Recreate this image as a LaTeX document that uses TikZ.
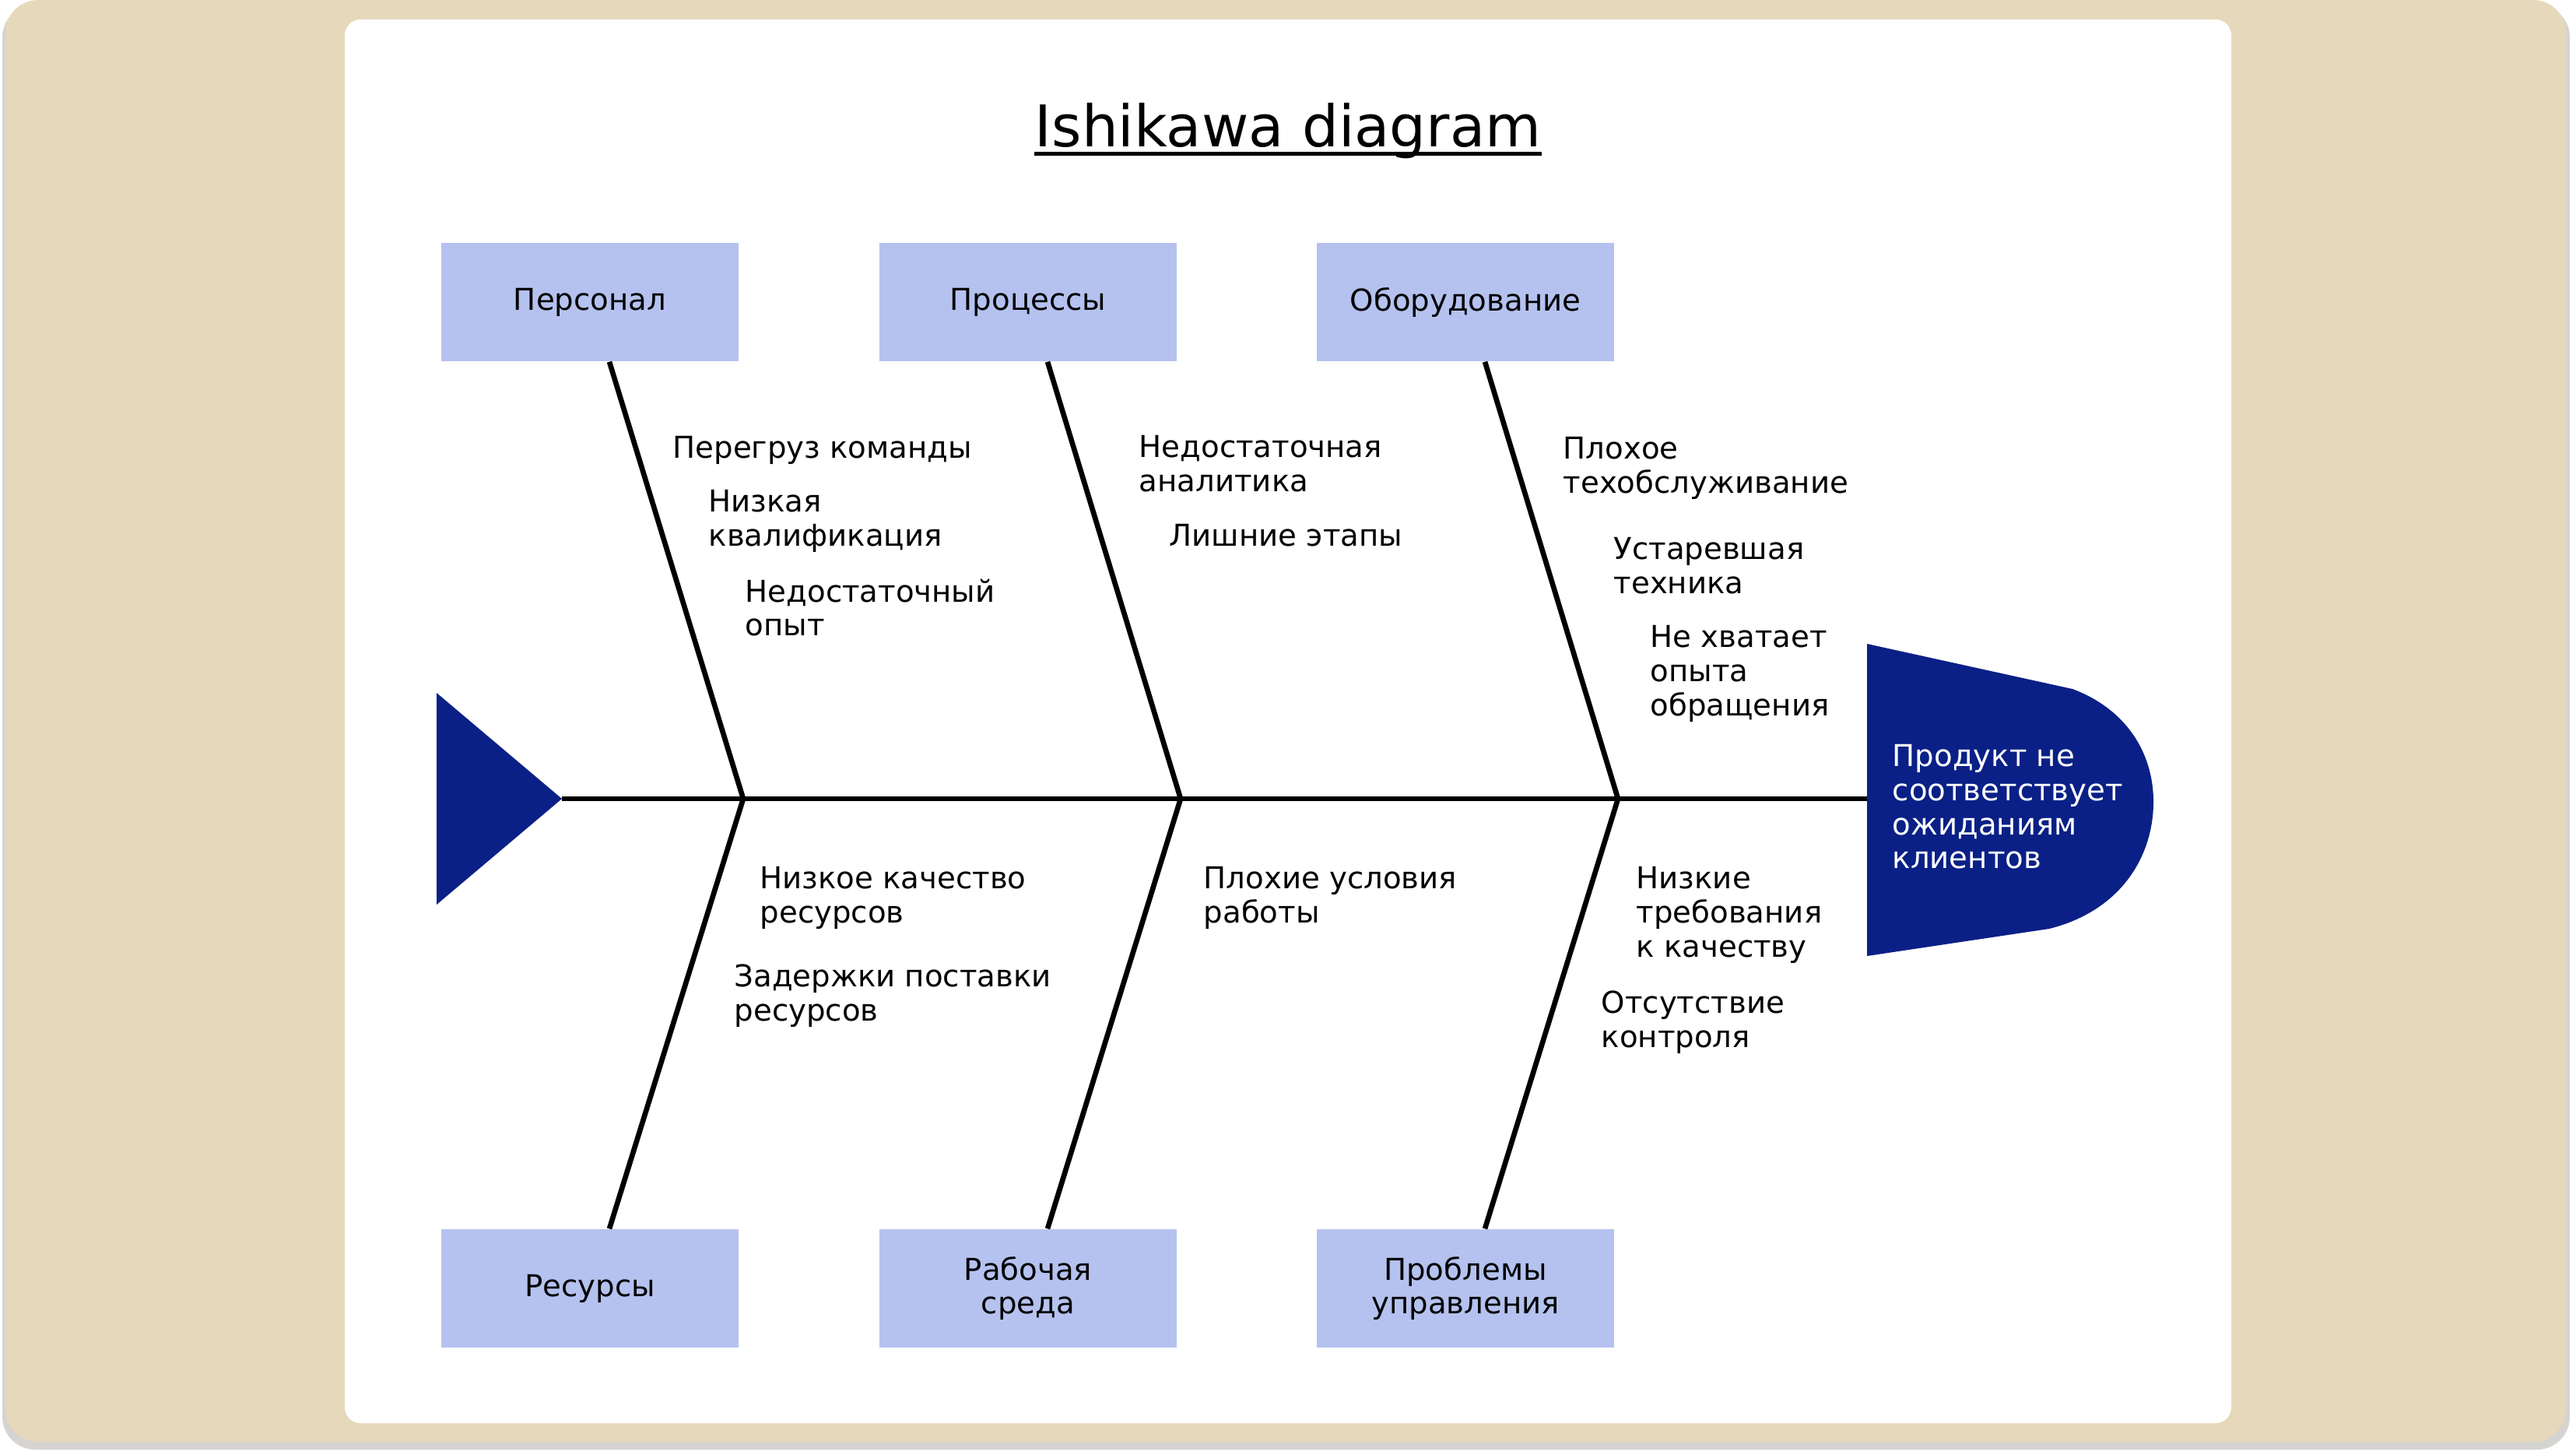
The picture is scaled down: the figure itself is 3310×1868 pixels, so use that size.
\documentclass[tikz,border=0pt]{standalone}
\usepackage{fontspec}
\setmainfont{DejaVu Sans}
\definecolor{sand}{RGB}{230,216,186}
\definecolor{cardshadow}{RGB}{214,212,209}
\definecolor{catblue}{RGB}{181,194,239}
\definecolor{navy}{RGB}{10,32,134}

\begin{document}
\begin{tikzpicture}[x=0.01cm,y=-0.01cm,
    bone/.style={line width=1.9pt},
    cat/.style={fill=catblue,minimum width=3.81cm,minimum height=1.52cm,align=center,font=\fontsize{11}{12.4}\selectfont},
    cause/.style={anchor=north west,inner sep=0pt,align=left,font=\fontsize{11}{12.4}\selectfont}]
  \useasboundingbox (0,0) rectangle (3310,1868);
  % card and sheet
  \fill[cardshadow,rounded corners=0.42cm] (3,6) rectangle (3302,1862);
  \fill[sand,rounded corners=0.42cm] (7,0) rectangle (3297,1852);
  \fill[white,rounded corners=0.2cm] (443,25) rectangle (2867,1828);
  % title
  \node[anchor=base,inner sep=0pt,font=\fontsize{21}{25}\selectfont] (title) at (1655,188) {Ishikawa diagram};
  \draw[line width=1.4pt] ([yshift=-2.6pt]title.base west) -- ([yshift=-2.6pt]title.base east);
  % categories
  \node[cat] (pers) at (758,388) {Персонал};
  \node[cat] (proc) at (1321,388) {Процессы};
  \node[cat] (equip) at (1883,388) {Оборудование};
  \node[cat] (res) at (758,1655) {Ресурсы};
  \node[cat] (env) at (1321,1655) {Рабочая\\среда};
  \node[cat] (mgmt) at (1883,1655) {Проблемы\\управления};
  % spine and bones
  \coordinate (tail) at (722,1026);
  \coordinate (head) at (2400,1026);
  \coordinate (j1) at (955,1026);
  \coordinate (j2) at (1517,1026);
  \coordinate (j3) at (2079,1026);
  \fill[navy] (561,890) -- (tail) -- (561,1162) -- cycle;
  \draw[bone] (tail) -- (head);
  \draw[bone] ([xshift=2.5mm]pers.south) -- (j1) -- ([xshift=2.5mm]res.north);
  \draw[bone] ([xshift=2.5mm]proc.south) -- (j2) -- ([xshift=2.5mm]env.north);
  \draw[bone] ([xshift=2.5mm]equip.south) -- (j3) -- ([xshift=2.5mm]mgmt.north);
  % head
  \fill[navy] (2399,827) -- (2663,885) .. controls (2730,910) and (2767,965) .. (2767,1030)
    .. controls (2767,1100) and (2725,1170) .. (2633,1193) -- (2399,1228) -- cycle;
  \node[cause,text=white] (effect) at (2431,956) {Продукт не\\соответствует\\ожиданиям\\клиентов};
  % causes
  \node[cause] (c11) at (864,560) {Перегруз команды};
  \node[cause] (c12) at (910,629) {Низкая\\квалификация};
  \node[cause] (c13) at (957,743) {Недостаточный\\опыт};
  \node[cause] (c21) at (1463,559) {Недостаточная\\аналитика};
  \node[cause] (c22) at (1502,673) {Лишние этапы};
  \node[cause] (c31) at (2008,561) {Плохое\\техобслуживание};
  \node[cause] (c32) at (2073,690) {Устаревшая\\техника};
  \node[cause] (c33) at (2120,803) {Не хватает\\опыта\\обращения};
  \node[cause] (c41) at (976,1113) {Низкое качество\\ресурсов};
  \node[cause] (c42) at (943,1238) {Задержки поставки\\ресурсов};
  \node[cause] (c51) at (1546,1113) {Плохие условия\\работы};
  \node[cause] (c61) at (2102,1113) {Низкие\\требования\\к качеству};
  \node[cause] (c62) at (2057,1272) {Отсутствие\\контроля};
\end{tikzpicture}
\end{document}
